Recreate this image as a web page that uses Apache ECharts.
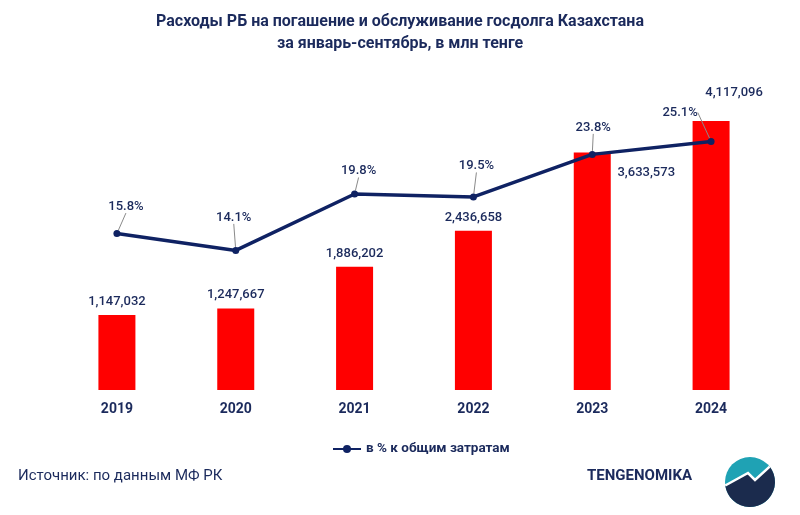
<!DOCTYPE html>
<html>
<head>
<meta charset="utf-8">
<script src="https://cdn.jsdelivr.net/npm/echarts@6/dist/echarts.min.js"></script>
<style>
  html, body { margin: 0; padding: 0; background: #fff; }
  #chart { width: 800px; height: 515px; }
</style>
</head>
<body>
<div id="chart"></div>
<script>
// data
const years = ['2019', '2020', '2021', '2022', '2023', '2024'];
const spending = [1147032, 1247667, 1886202, 2436658, 3633573, 4117096];
const sharePct = [15.8, 14.1, 19.8, 19.5, 23.8, 25.1];

const NAVY = '#1b2a5c';
const LINE = '#0f2263';
const FONT = 'Roboto, "Noto Sans", sans-serif';

// label nudges (px) so labels sit like in the original
const barLabelShift = { 4: [54, 34], 5: [23, -15] };
const pctLabelShift = [[9, -27], [-2, -33], [4, -23], [3, -31], [1, -27], [-31, -29]];

const fmt = (v) => v.toLocaleString('en-US');

// logo: circle, navy lower part under a zigzag
const logoEdge = [[-24.8, 3.5], [-2, -9], [5, -2], [19.7, -15.4]];
const logoLower = logoEdge.slice();
for (let a = -38; a <= 172; a += 10) {
  const r = a * Math.PI / 180;
  logoLower.push([25 * Math.cos(r), 25 * Math.sin(r)]);
}

const chart = echarts.init(document.getElementById('chart'));
chart.setOption({
  backgroundColor: '#fff',
  textStyle: { fontFamily: FONT },
  title: {
    text: 'Расходы РБ на погашение и обслуживание госдолга Казахстана\nза январь-сентябрь, в млн тенге',
    left: 'center',
    top: 6,
    textStyle: { color: NAVY, fontSize: 16, fontWeight: 'bold', lineHeight: 22, fontFamily: FONT },
  },
  legend: {
    left: 327,
    top: 437,
    itemWidth: 28,
    itemHeight: 10,
    data: ['в % к общим затратам'],
    textStyle: { color: NAVY, fontSize: 13.5, fontWeight: 'bold', fontFamily: FONT },
  },
  grid: { left: 57.5, right: 29.5, top: 63.3, bottom: 125 },
  xAxis: {
    type: 'category',
    data: years,
    axisLine: { show: false },
    axisTick: { show: false },
    axisLabel: { color: NAVY, fontSize: 14, fontWeight: 'bold', margin: 12, fontFamily: FONT },
  },
  yAxis: [
    { type: 'value', min: 0, max: 5000000, show: false, splitLine: { show: false } },
    { type: 'value', min: 0, max: 33, show: false, splitLine: { show: false } },
  ],
  series: [
    {
      name: 'Расходы',
      type: 'bar',
      barWidth: 37,
      itemStyle: { color: '#ff0000' },
      label: {
        show: true,
        position: 'top',
        distance: 7,
        color: NAVY,
        fontSize: 13,
        fontWeight: 500,
        formatter: (p) => fmt(p.value),
      },
      data: spending.map((v, i) => barLabelShift[i]
        ? { value: v, label: { offset: barLabelShift[i] } }
        : v),
    },
    {
      name: 'в % к общим затратам',
      type: 'line',
      yAxisIndex: 1,
      z: 5,
      symbol: 'circle',
      symbolSize: 7,
      lineStyle: { color: LINE, width: 3.5 },
      itemStyle: { color: LINE },
      label: {
        show: true,
        position: 'inside',
        color: NAVY,
        fontSize: 13,
        fontWeight: 500,
        formatter: (p) => p.value.toFixed(1) + '%',
      },
      labelLine: { show: true, lineStyle: { color: '#8a8a8a', width: 1 } },
      labelLayout: (p) => ({ dx: pctLabelShift[p.dataIndex][0], dy: pctLabelShift[p.dataIndex][1] }),
      data: sharePct,
    },
  ],
  graphic: [
    {
      type: 'text',
      left: 18,
      top: 469,
      style: { text: 'Источник: по данным МФ РК', fill: NAVY, fontSize: 15, fontFamily: FONT },
    },
    {
      type: 'text',
      left: 587,
      top: 469,
      style: { text: 'TENGENOMIKA', fill: NAVY, fontSize: 15, fontWeight: 'bold', fontFamily: FONT },
    },
    {
      type: 'group',
      x: 750,
      y: 482,
      children: [
        { type: 'circle', shape: { cx: 0, cy: 0, r: 25 }, style: { fill: '#1fa2b4' } },
        { type: 'polygon', shape: { points: logoLower }, style: { fill: '#1b2b4d' } },
        { type: 'polyline', shape: { points: logoEdge }, style: { stroke: '#fff', lineWidth: 2.5, fill: null } },
      ],
    },
  ],
});
</script>
</body>
</html>
